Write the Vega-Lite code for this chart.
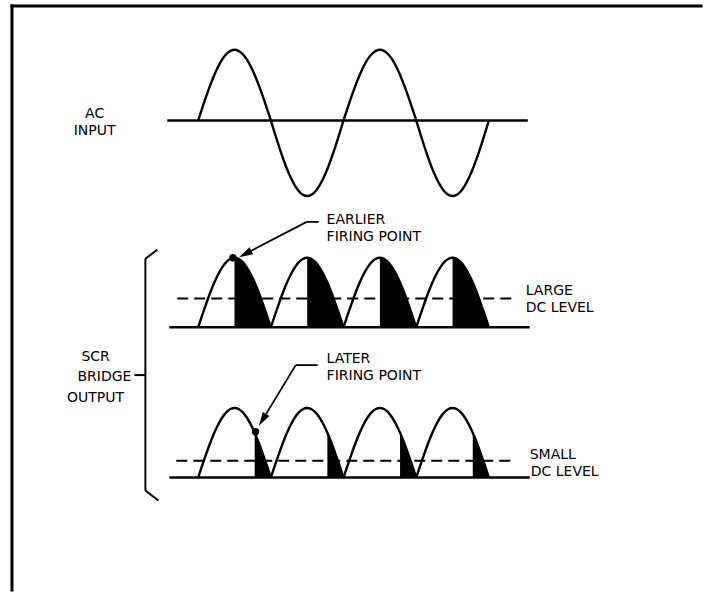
{
  "$schema": "https://vega.github.io/schema/vega-lite/v6.json",
  "width": 704,
  "height": 593,
  "autosize": {"type": "fit", "contains": "padding"},
  "padding": 0,
  "background": "white",
  "config": {"view": {"stroke": null}},
  "datasets": {
    "ac": [
      {"t":0,"v":121},{"t":10,"v":108.7},{"t":20,"v":96.7},{"t":30,"v":85.5},{"t":40,"v":75.4},{"t":50,"v":66.6},{"t":60,"v":59.5},{"t":70,"v":54.3},{"t":80,"v":51.1},{"t":90,"v":50},{"t":100,"v":51.1},{"t":110,"v":54.3},{"t":120,"v":59.5},{"t":130,"v":66.6},{"t":140,"v":75.4},{"t":150,"v":85.5},{"t":160,"v":96.7},{"t":170,"v":108.7},
      {"t":180,"v":121},{"t":190,"v":134.2},{"t":200,"v":147},{"t":210,"v":159},{"t":220,"v":169.9},{"t":230,"v":179.2},{"t":240,"v":186.8},{"t":250,"v":192.4},{"t":260,"v":195.9},{"t":270,"v":197},{"t":280,"v":195.9},{"t":290,"v":192.4},{"t":300,"v":186.8},{"t":310,"v":179.2},{"t":320,"v":169.9},{"t":330,"v":159},{"t":340,"v":147},{"t":350,"v":134.2},
      {"t":360,"v":121},{"t":370,"v":108.7},{"t":380,"v":96.7},{"t":390,"v":85.5},{"t":400,"v":75.4},{"t":410,"v":66.6},{"t":420,"v":59.5},{"t":430,"v":54.3},{"t":440,"v":51.1},{"t":450,"v":50},{"t":460,"v":51.1},{"t":470,"v":54.3},{"t":480,"v":59.5},{"t":490,"v":66.6},{"t":500,"v":75.4},{"t":510,"v":85.5},{"t":520,"v":96.7},{"t":530,"v":108.7},
      {"t":540,"v":121},{"t":550,"v":134.2},{"t":560,"v":147},{"t":570,"v":159},{"t":580,"v":169.9},{"t":590,"v":179.2},{"t":600,"v":186.8},{"t":610,"v":192.4},{"t":620,"v":195.9},{"t":630,"v":197},{"t":640,"v":195.9},{"t":650,"v":192.4},{"t":660,"v":186.8},{"t":670,"v":179.2},{"t":680,"v":169.9},{"t":690,"v":159},{"t":700,"v":147},{"t":710,"v":134.2},{"t":720,"v":121}
    ],
    "humps": [
      {"w":"a","h":0,"t":0,"v":329},{"w":"a","h":0,"t":10,"v":316.8},{"w":"a","h":0,"t":20,"v":305.1},{"w":"a","h":0,"t":30,"v":294},{"w":"a","h":0,"t":40,"v":284},{"w":"a","h":0,"t":50,"v":275.4},{"w":"a","h":0,"t":60,"v":268.4},{"w":"a","h":0,"t":70,"v":263.2},{"w":"a","h":0,"t":80,"v":260.1},{"w":"a","h":0,"t":90,"v":259},{"w":"a","h":0,"t":100,"v":260.1},{"w":"a","h":0,"t":110,"v":263.2},{"w":"a","h":0,"t":120,"v":268.4},{"w":"a","h":0,"t":130,"v":275.4},{"w":"a","h":0,"t":140,"v":284},{"w":"a","h":0,"t":150,"v":294},{"w":"a","h":0,"t":160,"v":305.1},{"w":"a","h":0,"t":170,"v":316.8},{"w":"a","h":0,"t":180,"v":329},
      {"w":"a","h":1,"t":180,"v":329},{"w":"a","h":1,"t":190,"v":316.8},{"w":"a","h":1,"t":200,"v":305.1},{"w":"a","h":1,"t":210,"v":294},{"w":"a","h":1,"t":220,"v":284},{"w":"a","h":1,"t":230,"v":275.4},{"w":"a","h":1,"t":240,"v":268.4},{"w":"a","h":1,"t":250,"v":263.2},{"w":"a","h":1,"t":260,"v":260.1},{"w":"a","h":1,"t":270,"v":259},{"w":"a","h":1,"t":280,"v":260.1},{"w":"a","h":1,"t":290,"v":263.2},{"w":"a","h":1,"t":300,"v":268.4},{"w":"a","h":1,"t":310,"v":275.4},{"w":"a","h":1,"t":320,"v":284},{"w":"a","h":1,"t":330,"v":294},{"w":"a","h":1,"t":340,"v":305.1},{"w":"a","h":1,"t":350,"v":316.8},{"w":"a","h":1,"t":360,"v":329},
      {"w":"a","h":2,"t":360,"v":329},{"w":"a","h":2,"t":370,"v":316.8},{"w":"a","h":2,"t":380,"v":305.1},{"w":"a","h":2,"t":390,"v":294},{"w":"a","h":2,"t":400,"v":284},{"w":"a","h":2,"t":410,"v":275.4},{"w":"a","h":2,"t":420,"v":268.4},{"w":"a","h":2,"t":430,"v":263.2},{"w":"a","h":2,"t":440,"v":260.1},{"w":"a","h":2,"t":450,"v":259},{"w":"a","h":2,"t":460,"v":260.1},{"w":"a","h":2,"t":470,"v":263.2},{"w":"a","h":2,"t":480,"v":268.4},{"w":"a","h":2,"t":490,"v":275.4},{"w":"a","h":2,"t":500,"v":284},{"w":"a","h":2,"t":510,"v":294},{"w":"a","h":2,"t":520,"v":305.1},{"w":"a","h":2,"t":530,"v":316.8},{"w":"a","h":2,"t":540,"v":329},
      {"w":"a","h":3,"t":540,"v":329},{"w":"a","h":3,"t":550,"v":316.8},{"w":"a","h":3,"t":560,"v":305.1},{"w":"a","h":3,"t":570,"v":294},{"w":"a","h":3,"t":580,"v":284},{"w":"a","h":3,"t":590,"v":275.4},{"w":"a","h":3,"t":600,"v":268.4},{"w":"a","h":3,"t":610,"v":263.2},{"w":"a","h":3,"t":620,"v":260.1},{"w":"a","h":3,"t":630,"v":259},{"w":"a","h":3,"t":640,"v":260.1},{"w":"a","h":3,"t":650,"v":263.2},{"w":"a","h":3,"t":660,"v":268.4},{"w":"a","h":3,"t":670,"v":275.4},{"w":"a","h":3,"t":680,"v":284},{"w":"a","h":3,"t":690,"v":294},{"w":"a","h":3,"t":700,"v":305.1},{"w":"a","h":3,"t":710,"v":316.8},{"w":"a","h":3,"t":720,"v":329},
      {"w":"b","h":0,"t":0,"v":480},{"w":"b","h":0,"t":10,"v":467.8},{"w":"b","h":0,"t":20,"v":456.1},{"w":"b","h":0,"t":30,"v":445},{"w":"b","h":0,"t":40,"v":435},{"w":"b","h":0,"t":50,"v":426.4},{"w":"b","h":0,"t":60,"v":419.4},{"w":"b","h":0,"t":70,"v":414.2},{"w":"b","h":0,"t":80,"v":411.1},{"w":"b","h":0,"t":90,"v":410},{"w":"b","h":0,"t":100,"v":411.1},{"w":"b","h":0,"t":110,"v":414.2},{"w":"b","h":0,"t":120,"v":419.4},{"w":"b","h":0,"t":130,"v":426.4},{"w":"b","h":0,"t":140,"v":435},{"w":"b","h":0,"t":150,"v":445},{"w":"b","h":0,"t":160,"v":456.1},{"w":"b","h":0,"t":170,"v":467.8},{"w":"b","h":0,"t":180,"v":480},
      {"w":"b","h":1,"t":180,"v":480},{"w":"b","h":1,"t":190,"v":467.8},{"w":"b","h":1,"t":200,"v":456.1},{"w":"b","h":1,"t":210,"v":445},{"w":"b","h":1,"t":220,"v":435},{"w":"b","h":1,"t":230,"v":426.4},{"w":"b","h":1,"t":240,"v":419.4},{"w":"b","h":1,"t":250,"v":414.2},{"w":"b","h":1,"t":260,"v":411.1},{"w":"b","h":1,"t":270,"v":410},{"w":"b","h":1,"t":280,"v":411.1},{"w":"b","h":1,"t":290,"v":414.2},{"w":"b","h":1,"t":300,"v":419.4},{"w":"b","h":1,"t":310,"v":426.4},{"w":"b","h":1,"t":320,"v":435},{"w":"b","h":1,"t":330,"v":445},{"w":"b","h":1,"t":340,"v":456.1},{"w":"b","h":1,"t":350,"v":467.8},{"w":"b","h":1,"t":360,"v":480},
      {"w":"b","h":2,"t":360,"v":480},{"w":"b","h":2,"t":370,"v":467.8},{"w":"b","h":2,"t":380,"v":456.1},{"w":"b","h":2,"t":390,"v":445},{"w":"b","h":2,"t":400,"v":435},{"w":"b","h":2,"t":410,"v":426.4},{"w":"b","h":2,"t":420,"v":419.4},{"w":"b","h":2,"t":430,"v":414.2},{"w":"b","h":2,"t":440,"v":411.1},{"w":"b","h":2,"t":450,"v":410},{"w":"b","h":2,"t":460,"v":411.1},{"w":"b","h":2,"t":470,"v":414.2},{"w":"b","h":2,"t":480,"v":419.4},{"w":"b","h":2,"t":490,"v":426.4},{"w":"b","h":2,"t":500,"v":435},{"w":"b","h":2,"t":510,"v":445},{"w":"b","h":2,"t":520,"v":456.1},{"w":"b","h":2,"t":530,"v":467.8},{"w":"b","h":2,"t":540,"v":480},
      {"w":"b","h":3,"t":540,"v":480},{"w":"b","h":3,"t":550,"v":467.8},{"w":"b","h":3,"t":560,"v":456.1},{"w":"b","h":3,"t":570,"v":445},{"w":"b","h":3,"t":580,"v":435},{"w":"b","h":3,"t":590,"v":426.4},{"w":"b","h":3,"t":600,"v":419.4},{"w":"b","h":3,"t":610,"v":414.2},{"w":"b","h":3,"t":620,"v":411.1},{"w":"b","h":3,"t":630,"v":410},{"w":"b","h":3,"t":640,"v":411.1},{"w":"b","h":3,"t":650,"v":414.2},{"w":"b","h":3,"t":660,"v":419.4},{"w":"b","h":3,"t":670,"v":426.4},{"w":"b","h":3,"t":680,"v":435},{"w":"b","h":3,"t":690,"v":445},{"w":"b","h":3,"t":700,"v":456.1},{"w":"b","h":3,"t":710,"v":467.8},{"w":"b","h":3,"t":720,"v":480}
    ],
    "segments": [
      {"kind":"border","t1":-461.1,"v1":6,"t2":1245.2,"v2":6},
      {"kind":"border","t1":-461.1,"v1":6,"t2":-461.1,"v2":593},
      {"kind":"base","t1":-76.4,"v1":121,"t2":816.2,"v2":121},
      {"kind":"base","t1":-71.5,"v1":329,"t2":821.1,"v2":329},
      {"kind":"base","t1":-71.5,"v1":480,"t2":821.1,"v2":480},
      {"kind":"dc","t1":-51.8,"v1":300,"t2":784.1,"v2":300},
      {"kind":"dc","t1":-54.2,"v1":463,"t2":781.6,"v2":463},
      {"kind":"bracket","t1":-101.1,"v1":251,"t2":-130.7,"v2":260},
      {"kind":"bracket","t1":-130.7,"v1":260,"t2":-130.7,"v2":493},
      {"kind":"bracket","t1":-130.7,"v1":493,"t2":-98.6,"v2":503},
      {"kind":"bracket","t1":-157.8,"v1":377,"t2":-130.7,"v2":377},
      {"kind":"leader","t1":298.4,"v1":223,"t2":268.8,"v2":223},
      {"kind":"leader","t1":268.8,"v1":223,"t2":131.7,"v2":252},
      {"kind":"leader","t1":295.9,"v1":367,"t2":241.6,"v2":367},
      {"kind":"leader","t1":241.6,"v1":367,"t2":168.4,"v2":416}
    ],
    "arrows": [
      {"id":"early","t":116.4,"v":255.3},
      {"id":"late","t":159.3,"v":422}
    ],
    "dots": [
      {"id":"early","t":86,"v":259},
      {"id":"late","t":142,"v":434}
    ],
    "labelsLeft": [
      {"t":318.1,"v":225,"text":"EARLIER"},
      {"t":318.1,"v":242,"text":"FIRING POINT"},
      {"t":318.1,"v":365,"text":"LATER"},
      {"t":318.1,"v":382,"text":"FIRING POINT"},
      {"t":811.2,"v":297,"text":"LARGE"},
      {"t":811.2,"v":314,"text":"DC LEVEL"},
      {"t":821.1,"v":461,"text":"SMALL"},
      {"t":823.6,"v":478,"text":"DC LEVEL"}
    ],
    "labelsCenter": [
      {"t":-256.4,"v":119,"text":"AC"},
      {"t":-256.4,"v":136,"text":"INPUT"},
      {"t":-254,"v":363,"text":"SCR"},
      {"t":-254,"v":404,"text":"OUTPUT"}
    ],
    "labelsRight": [
      {"t":-165.2,"v":383,"text":"BRIDGE"}
    ]
  },
  "layer": [
    {
      "data": {"name": "segments"},
      "transform": [{"filter": "datum.kind == 'border'"}],
      "mark": {"type": "rule", "color": "black", "strokeWidth": 3, "strokeCap": "square"},
      "encoding": {
        "x": {"field": "t1", "type": "quantitative", "scale": {"domain": [-490.7, 1245.2], "nice": false, "zero": false}, "axis": null},
        "x2": {"field": "t2"},
        "y": {"field": "v1", "type": "quantitative", "scale": {"domain": [0, 593], "reverse": true, "nice": false, "zero": false}, "axis": null},
        "y2": {"field": "v2"}
      }
    },
    {
      "data": {"name": "segments"},
      "transform": [{"filter": "datum.kind == 'base'"}],
      "mark": {"type": "rule", "color": "black", "strokeWidth": 2.5},
      "encoding": {
        "x": {"field": "t1", "type": "quantitative", "scale": {"domain": [-490.7, 1245.2], "nice": false, "zero": false}, "axis": null},
        "x2": {"field": "t2"},
        "y": {"field": "v1", "type": "quantitative", "scale": {"domain": [0, 593], "reverse": true, "nice": false, "zero": false}, "axis": null},
        "y2": {"field": "v2"}
      }
    },
    {
      "data": {"name": "segments"},
      "transform": [{"filter": "datum.kind == 'dc'"}],
      "mark": {"type": "rule", "color": "black", "strokeWidth": 2, "strokeDash": [11, 6]},
      "encoding": {
        "x": {"field": "t1", "type": "quantitative", "scale": {"domain": [-490.7, 1245.2], "nice": false, "zero": false}, "axis": null},
        "x2": {"field": "t2"},
        "y": {"field": "v1", "type": "quantitative", "scale": {"domain": [0, 593], "reverse": true, "nice": false, "zero": false}, "axis": null},
        "y2": {"field": "v2"}
      }
    },
    {
      "data": {"name": "segments"},
      "transform": [{"filter": "datum.kind == 'bracket'"}],
      "mark": {"type": "rule", "color": "black", "strokeWidth": 2},
      "encoding": {
        "x": {"field": "t1", "type": "quantitative", "scale": {"domain": [-490.7, 1245.2], "nice": false, "zero": false}, "axis": null},
        "x2": {"field": "t2"},
        "y": {"field": "v1", "type": "quantitative", "scale": {"domain": [0, 593], "reverse": true, "nice": false, "zero": false}, "axis": null},
        "y2": {"field": "v2"}
      }
    },
    {
      "data": {"name": "segments"},
      "transform": [{"filter": "datum.kind == 'leader'"}],
      "mark": {"type": "rule", "color": "black", "strokeWidth": 1.8},
      "encoding": {
        "x": {"field": "t1", "type": "quantitative", "scale": {"domain": [-490.7, 1245.2], "nice": false, "zero": false}, "axis": null},
        "x2": {"field": "t2"},
        "y": {"field": "v1", "type": "quantitative", "scale": {"domain": [0, 593], "reverse": true, "nice": false, "zero": false}, "axis": null},
        "y2": {"field": "v2"}
      }
    },
    {
      "data": {"name": "ac"},
      "mark": {"type": "line", "color": "black", "strokeWidth": 2.4, "interpolate": "monotone"},
      "encoding": {
        "x": {"field": "t", "type": "quantitative", "scale": {"domain": [-490.7, 1245.2], "nice": false, "zero": false}, "axis": null},
        "y": {"field": "v", "type": "quantitative", "scale": {"domain": [0, 593], "reverse": true, "nice": false, "zero": false}, "axis": null}
      }
    },
    {
      "data": {"name": "humps"},
      "transform": [{"filter": "datum.w == 'a' && datum.t - 180 * datum.h >= 90"}],
      "mark": {"type": "area", "color": "black", "opacity": 1, "interpolate": "monotone"},
      "encoding": {
        "x": {"field": "t", "type": "quantitative", "scale": {"domain": [-490.7, 1245.2], "nice": false, "zero": false}, "axis": null},
        "y": {"field": "v", "type": "quantitative", "stack": null, "scale": {"domain": [0, 593], "reverse": true, "nice": false, "zero": false}, "axis": null},
        "y2": {"datum": 329},
        "detail": {"field": "h"}
      }
    },
    {
      "data": {"name": "humps"},
      "transform": [{"filter": "datum.w == 'b' && datum.t - 180 * datum.h >= 140"}],
      "mark": {"type": "area", "color": "black", "opacity": 1, "interpolate": "monotone"},
      "encoding": {
        "x": {"field": "t", "type": "quantitative", "scale": {"domain": [-490.7, 1245.2], "nice": false, "zero": false}, "axis": null},
        "y": {"field": "v", "type": "quantitative", "stack": null, "scale": {"domain": [0, 593], "reverse": true, "nice": false, "zero": false}, "axis": null},
        "y2": {"datum": 480},
        "detail": {"field": "h"}
      }
    },
    {
      "data": {"name": "humps"},
      "mark": {"type": "line", "color": "black", "strokeWidth": 2.4, "interpolate": "monotone"},
      "encoding": {
        "x": {"field": "t", "type": "quantitative", "scale": {"domain": [-490.7, 1245.2], "nice": false, "zero": false}, "axis": null},
        "y": {"field": "v", "type": "quantitative", "scale": {"domain": [0, 593], "reverse": true, "nice": false, "zero": false}, "axis": null},
        "detail": [{"field": "w"}, {"field": "h"}]
      }
    },
    {
      "data": {"name": "arrows"},
      "transform": [{"filter": "datum.id == 'early'"}],
      "mark": {"type": "point", "shape": "M0,-1L0.55,1L-0.55,1Z", "filled": true, "color": "black", "opacity": 1, "size": 196, "angle": 242.4},
      "encoding": {
        "x": {"field": "t", "type": "quantitative", "scale": {"domain": [-490.7, 1245.2], "nice": false, "zero": false}, "axis": null},
        "y": {"field": "v", "type": "quantitative", "scale": {"domain": [0, 593], "reverse": true, "nice": false, "zero": false}, "axis": null}
      }
    },
    {
      "data": {"name": "arrows"},
      "transform": [{"filter": "datum.id == 'late'"}],
      "mark": {"type": "point", "shape": "M0,-1L0.55,1L-0.55,1Z", "filled": true, "color": "black", "opacity": 1, "size": 196, "angle": 211.3},
      "encoding": {
        "x": {"field": "t", "type": "quantitative", "scale": {"domain": [-490.7, 1245.2], "nice": false, "zero": false}, "axis": null},
        "y": {"field": "v", "type": "quantitative", "scale": {"domain": [0, 593], "reverse": true, "nice": false, "zero": false}, "axis": null}
      }
    },
    {
      "data": {"name": "dots"},
      "mark": {"type": "point", "shape": "circle", "filled": true, "color": "black", "opacity": 1, "size": 55},
      "encoding": {
        "x": {"field": "t", "type": "quantitative", "scale": {"domain": [-490.7, 1245.2], "nice": false, "zero": false}, "axis": null},
        "y": {"field": "v", "type": "quantitative", "scale": {"domain": [0, 593], "reverse": true, "nice": false, "zero": false}, "axis": null}
      }
    },
    {
      "data": {"name": "labelsLeft"},
      "mark": {"type": "text", "align": "left", "baseline": "alphabetic", "font": "DejaVu Sans", "fontSize": 14, "color": "black"},
      "encoding": {
        "x": {"field": "t", "type": "quantitative", "scale": {"domain": [-490.7, 1245.2], "nice": false, "zero": false}, "axis": null},
        "y": {"field": "v", "type": "quantitative", "scale": {"domain": [0, 593], "reverse": true, "nice": false, "zero": false}, "axis": null},
        "text": {"field": "text"}
      }
    },
    {
      "data": {"name": "labelsCenter"},
      "mark": {"type": "text", "align": "center", "baseline": "alphabetic", "font": "DejaVu Sans", "fontSize": 14, "color": "black"},
      "encoding": {
        "x": {"field": "t", "type": "quantitative", "scale": {"domain": [-490.7, 1245.2], "nice": false, "zero": false}, "axis": null},
        "y": {"field": "v", "type": "quantitative", "scale": {"domain": [0, 593], "reverse": true, "nice": false, "zero": false}, "axis": null},
        "text": {"field": "text"}
      }
    },
    {
      "data": {"name": "labelsRight"},
      "mark": {"type": "text", "align": "right", "baseline": "alphabetic", "font": "DejaVu Sans", "fontSize": 14, "color": "black"},
      "encoding": {
        "x": {"field": "t", "type": "quantitative", "scale": {"domain": [-490.7, 1245.2], "nice": false, "zero": false}, "axis": null},
        "y": {"field": "v", "type": "quantitative", "scale": {"domain": [0, 593], "reverse": true, "nice": false, "zero": false}, "axis": null},
        "text": {"field": "text"}
      }
    }
  ]
}
